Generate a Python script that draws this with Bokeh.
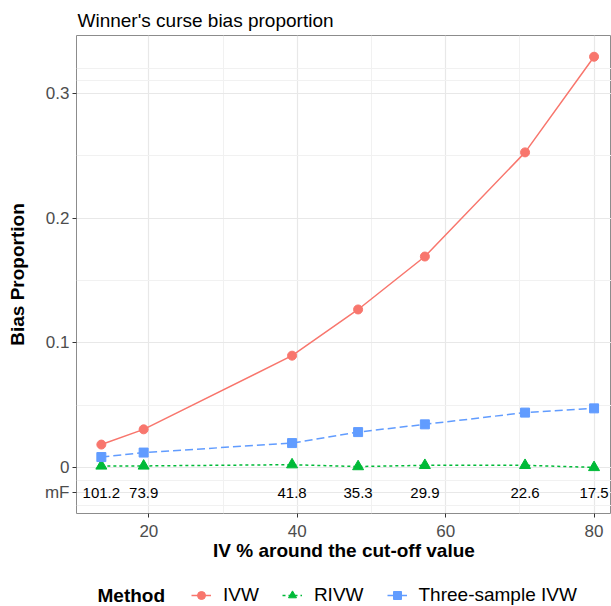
from bokeh.plotting import figure
from bokeh.layouts import column
from bokeh.models import FixedTicker, Legend, LegendItem, Range1d, Label
from bokeh.embed import file_html
from bokeh.resources import INLINE
from bokeh.core.properties import value

# ---- data ----
iv_pct = [13.6, 19.3, 39.3, 48.2, 57.2, 70.7, 80.0]
mf_labels = ["101.2", "73.9", "41.8", "35.3", "29.9", "22.6", "17.5"]
ivw = [0.0186, 0.0308, 0.0898, 0.1268, 0.1692, 0.2526, 0.3292]
rivw = [0.0015, 0.0015, 0.0025, 0.0010, 0.0020, 0.0020, 0.0003]
three_ivw = [0.0086, 0.0122, 0.0198, 0.0286, 0.0348, 0.0442, 0.0476]
methods = ["IVW", "RIVW", "Three-sample IVW"]
x_ticks = [20, 40, 60, 80]
x_minor = [30, 50, 70]
y_ticks = [-0.02, 0, 0.1, 0.2, 0.3]
y_tick_labels = ["mF", "0", "0.1", "0.2", "0.3"]
y_minor = [-0.03, -0.01, 0.05, 0.15, 0.25, 0.31, 0.32]
mf_y = y_ticks[0]

FONT = "Liberation Sans"
C_IVW, C_RIVW, C_3 = "#F8766D", "#00BA38", "#619CFF"

p = figure(width=611, height=580, output_backend="svg", toolbar_location=None,
           x_range=Range1d(10.25, 82.35), y_range=Range1d(-0.0366, 0.3462),
           min_border_left=76, min_border_right=0, min_border_top=35,
           min_border_bottom=67, title="Winner's curse bias proportion")
p.background_fill_color = "white"
p.outline_line_color = "#8c8c8c"
p.outline_line_width = 1

p.title.text_font = FONT
p.title.text_font_size = "19px"
p.title.text_font_style = "normal"
p.title.text_color = "black"
p.title.standoff = 10
p.title.offset = 1

xt = FixedTicker(ticks=x_ticks, minor_ticks=x_minor)
yt = FixedTicker(ticks=y_ticks, minor_ticks=y_minor)
p.xaxis.ticker = xt
p.yaxis.ticker = yt
p.xgrid.ticker = xt
p.ygrid.ticker = yt
p.yaxis.major_label_overrides = {t: l for t, l in zip(y_ticks, y_tick_labels)}

for ax in (p.xaxis, p.yaxis):
    ax.axis_line_color = None
    ax.major_tick_line_color = "#333333"
    ax.major_tick_in = 0
    ax.major_tick_out = 4
    ax.minor_tick_line_color = None
    ax.major_label_text_font = FONT
    ax.major_label_text_font_size = "17px"
    ax.major_label_text_color = "#4d4d4d"
    ax.axis_label_text_font = FONT
    ax.axis_label_text_font_size = "19px"
    ax.axis_label_text_font_style = "bold"
    ax.axis_label_text_color = "black"

p.xaxis.axis_label = "IV % around the cut-off value"
p.xaxis.major_label_standoff = 7
p.xaxis.axis_label_standoff = 0
p.yaxis.axis_label = "Bias Proportion"
p.yaxis.major_label_standoff = 3
p.yaxis.axis_label_standoff = 14

for g in (p.xgrid, p.ygrid):
    g.grid_line_color = "#e8e8e8"
    g.grid_line_width = 1.2
    g.minor_grid_line_color = "#f1f1f1"
    g.minor_grid_line_width = 1

# mF annotations
p.text(x=iv_pct, y=[mf_y] * len(iv_pct), text=mf_labels, text_align="center",
       text_baseline="middle", text_font=value(FONT), text_font_size="15px",
       text_color="black")

series = [ivw, rivw, three_ivw]
styles = [(C_IVW, None, "circle", 9), (C_RIVW, "3 3", "triangle", 11),
          (C_3, "8 4", "square", 9)]
for ys, (c, dash, mk, sz) in zip(series, styles):
    kw = {} if dash is None else {"line_dash": dash}
    p.line(iv_pct, ys, line_color=c, line_width=1.5, **kw)
    p.scatter(iv_pct, ys, marker=mk, size=sz, color=c)

# ---- legend strip below the plot (its ranges keep the series out of view) ----
lg = figure(width=611, height=26, output_backend="svg", toolbar_location=None,
            x_range=Range1d(-2, -1), y_range=Range1d(-2, -1),
            x_axis_location=None, y_axis_location=None,
            min_border_left=76, min_border_right=0, min_border_top=0,
            min_border_bottom=0)
lg.grid.visible = False
lg.outline_line_color = None
lg.background_fill_color = "white"

items = []
for name, ys, (c, dash, mk, sz) in zip(methods, series, styles):
    kw = {} if dash is None else {"line_dash": dash}
    lr = lg.line(iv_pct, ys, line_color=c, line_width=1.5, **kw)
    sr = lg.scatter(iv_pct, ys, marker=mk, size=sz, color=c)
    items.append(LegendItem(label=name, renderers=[lr, sr]))

legend = Legend(items=items, orientation="horizontal", location=(115, 0),
                border_line_color=None, background_fill_alpha=0,
                padding=0, margin=0, spacing=23, label_standoff=12,
                glyph_width=20, glyph_height=22, label_height=22,
                label_text_font=FONT, label_text_font_size="19px",
                label_text_color="black")
lg.add_layout(legend)
lg.add_layout(Label(x=21, y=11, x_units="screen", y_units="screen",
                    text="Method", text_font=FONT, text_font_size="19px",
                    text_font_style="bold", text_baseline="middle",
                    text_color="black"))

open("out.html", "w").write(file_html(column(p, lg, spacing=0), INLINE))
